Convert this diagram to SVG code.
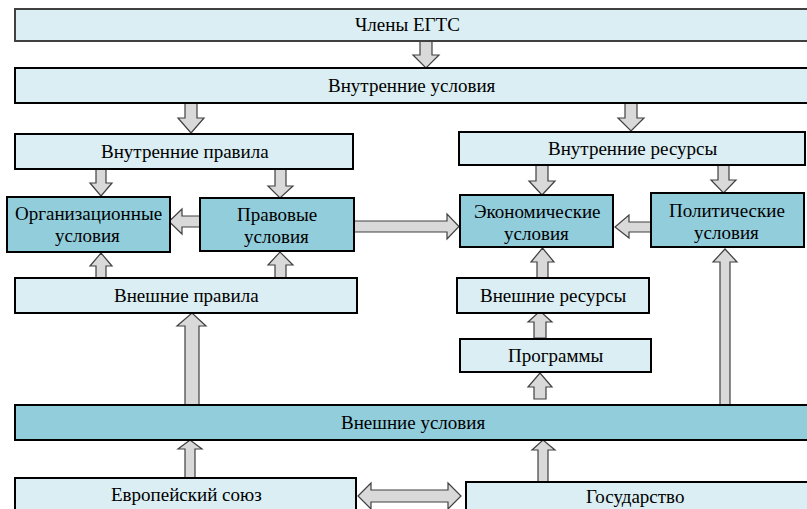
<svg xmlns="http://www.w3.org/2000/svg" width="807" height="509" viewBox="0 0 807 509">
<rect width="807" height="509" fill="#fff"/>
<g id="connectors" fill="#d9d9d9" stroke="#404040" stroke-width="1.2">
<polygon points="420,41 432,41 432,55 439,55 426,68 413,55 420,55"/>
<polygon points="185,103 197,103 197,118 204,118 191,133 178,118 185,118"/>
<polygon points="625,103 637,103 637,118 644,118 631,131 618,118 625,118"/>
<polygon points="96,169 106,169 106,183 112,183 101,196 90,183 96,183"/>
<polygon points="275,169 286,169 286,186 293,186 280,198 268,186 275,186"/>
<polygon points="200,216 182,216 182,209 169,221.5 182,234 182,227 200,227"/>
<polygon points="354,221 447,221 447,214 459,226.5 447,239 447,232 354,232"/>
<polygon points="96,278 106,278 106,266 112,266 101,253 90,266 96,266"/>
<polygon points="275,278 286,278 286,265 293,265 280,252 268,265 275,265"/>
<polygon points="185,405 199,405 199,326 206,326 192,313 177,326 185,326"/>
<polygon points="536,165 548,165 548,181 555,181 542,195 529,181 536,181"/>
<polygon points="718,165 729,165 729,180 736,180 723.5,193 711,180 718,180"/>
<polygon points="651,222 629,222 629,215 615,227 629,238 629,232 651,232"/>
<polygon points="537,278 548,278 548,262 554,262 542.5,248 531,262 537,262"/>
<polygon points="534,338 546,338 546,322 552,322 540,311 528,322 534,322"/>
<polygon points="534,399 546,399 546,387 552,387 540,373 528,387 534,387"/>
<polygon points="720,405 730,405 730,262 737,262 725,249 713,262 720,262"/>
<polygon points="185,478 195,478 195,449 202,449 190,440 178,449 185,449"/>
<polygon points="538,482 548,482 548,450 555,450 543,440 532,450 538,450"/>
<polygon points="358,496 371,483 371,490 448,490 448,483 461,496 448,509 448,502 371,502 371,509"/>
</g>
<g id="n-chleny"><rect fill="#daeef3" stroke="#404040" stroke-width="2" x="15" y="9" width="800" height="32"/><text x="355" y="31" font-family="Liberation Serif" font-size="19">Члены ЕГТС</text></g>
<g id="n-vnutr-usl"><rect fill="#daeef3" stroke="#000" stroke-width="2" x="15" y="68" width="800" height="35"/><text x="328" y="92" font-family="Liberation Serif" font-size="19">Внутренние условия</text></g>
<g id="n-vnutr-prav"><rect fill="#daeef3" stroke="#000" stroke-width="2" x="15" y="134" width="338" height="35"/><text x="101" y="158" font-family="Liberation Serif" font-size="19">Внутренние правила</text></g>
<g id="n-vnutr-res"><rect fill="#daeef3" stroke="#000" stroke-width="2" x="459" y="132" width="346" height="33"/><text x="548" y="155" font-family="Liberation Serif" font-size="19">Внутренние ресурсы</text></g>
<g id="n-org"><rect fill="#92cddc" stroke="#000" stroke-width="2" x="7" y="197" width="163" height="55"/><text x="15" y="220" font-family="Liberation Serif" font-size="19">Организационные</text><text x="55" y="242" font-family="Liberation Serif" font-size="19">условия</text></g>
<g id="n-prav"><rect fill="#92cddc" stroke="#000" stroke-width="2" x="200" y="198" width="154" height="53"/><text x="237" y="221" font-family="Liberation Serif" font-size="19">Правовые</text><text x="244" y="243" font-family="Liberation Serif" font-size="19">условия</text></g>
<g id="n-econ"><rect fill="#92cddc" stroke="#000" stroke-width="2" x="460" y="195" width="153" height="52"/><text x="474" y="218" font-family="Liberation Serif" font-size="19">Экономические</text><text x="504" y="240" font-family="Liberation Serif" font-size="19">условия</text></g>
<g id="n-polit"><rect fill="#92cddc" stroke="#000" stroke-width="2" x="651" y="193" width="153" height="54"/><text x="669" y="217" font-family="Liberation Serif" font-size="19">Политические</text><text x="694" y="239" font-family="Liberation Serif" font-size="19">условия</text></g>
<g id="n-vnesh-prav"><rect fill="#daeef3" stroke="#000" stroke-width="2" x="15" y="278" width="342" height="35"/><text x="114" y="302" font-family="Liberation Serif" font-size="19">Внешние правила</text></g>
<g id="n-vnesh-res"><rect fill="#daeef3" stroke="#000" stroke-width="2" x="457" y="278" width="192" height="35"/><text x="480" y="302" font-family="Liberation Serif" font-size="19">Внешние ресурсы</text></g>
<g id="n-progr"><rect fill="#daeef3" stroke="#000" stroke-width="2" x="460" y="339" width="191" height="33"/><text x="508" y="362" font-family="Liberation Serif" font-size="19">Программы</text></g>
<g id="n-vnesh-usl"><rect fill="#92cddc" stroke="#000" stroke-width="2" x="15" y="405" width="800" height="35"/><text x="341" y="429" font-family="Liberation Serif" font-size="19">Внешние условия</text></g>
<g id="n-eu"><rect fill="#daeef3" stroke="#000" stroke-width="2" x="15" y="478" width="341" height="40"/><text x="111" y="501" font-family="Liberation Serif" font-size="19">Европейский союз</text></g>
<g id="n-gos"><rect fill="#daeef3" stroke="#000" stroke-width="2" x="466" y="482" width="350" height="40"/><text x="586" y="503" font-family="Liberation Serif" font-size="19">Государство</text></g>
</svg>
